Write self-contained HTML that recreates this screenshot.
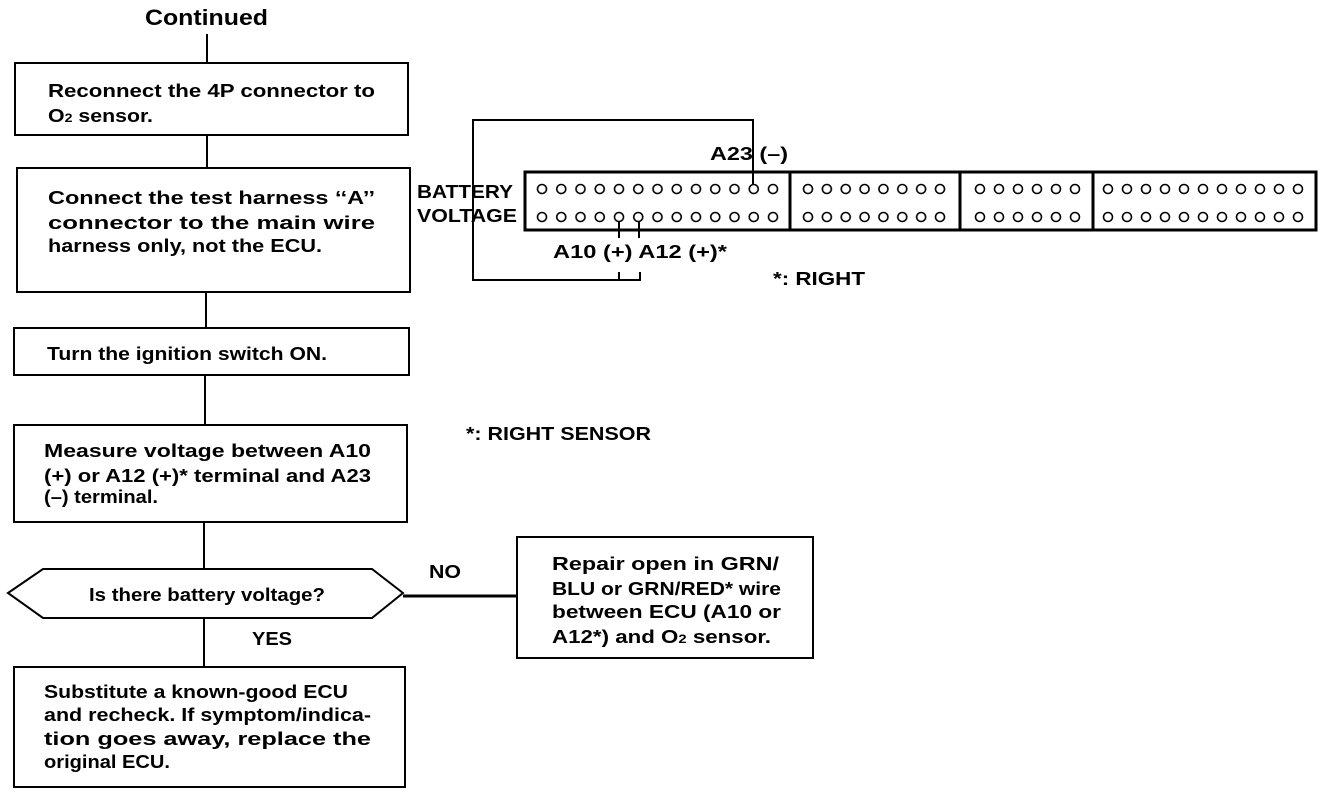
<!DOCTYPE html>
<html><head><meta charset="utf-8"><style>
html,body{margin:0;padding:0;background:#fff;}
svg{display:block;}
text{font-family:"Liberation Sans",Arial,sans-serif;font-weight:bold;fill:#000;}
.t{font-size:18px;}
</style></head><body>
<svg width="1344" height="796" viewBox="0 0 1344 796" xmlns="http://www.w3.org/2000/svg">
<defs>
<pattern id="p1" patternUnits="userSpaceOnUse" x="532.375" y="175" width="19.25" height="28"><circle cx="9.625" cy="14" r="4.5" fill="none" stroke="#000" stroke-width="1.6"/></pattern>
<pattern id="p2" patternUnits="userSpaceOnUse" x="798.57" y="175" width="18.857" height="28"><circle cx="9.43" cy="14" r="4.5" fill="none" stroke="#000" stroke-width="1.6"/></pattern>
<pattern id="p3" patternUnits="userSpaceOnUse" x="970.5" y="175" width="19" height="28"><circle cx="9.5" cy="14" r="4.5" fill="none" stroke="#000" stroke-width="1.6"/></pattern>
<pattern id="p4" patternUnits="userSpaceOnUse" x="1098.5" y="175" width="19" height="28"><circle cx="9.5" cy="14" r="4.5" fill="none" stroke="#000" stroke-width="1.6"/></pattern>
</defs>
<rect x="532.375" y="175" width="250.25" height="56" fill="url(#p1)"/>
<rect x="798.57" y="175" width="150.86" height="56" fill="url(#p2)"/>
<rect x="970.5" y="175" width="114" height="56" fill="url(#p3)"/>
<rect x="1098.5" y="175" width="209" height="56" fill="url(#p4)"/>
<g fill="none" stroke="#000" stroke-width="2">
<line x1="207" y1="34" x2="207" y2="63"/>
<rect x="15" y="63" width="393" height="72"/>
<line x1="207" y1="135" x2="207" y2="168"/>
<rect x="17" y="168" width="393" height="124"/>
<line x1="206" y1="292" x2="206" y2="328"/>
<rect x="14" y="328" width="395" height="47"/>
<line x1="205" y1="375" x2="205" y2="425"/>
<rect x="14" y="425" width="393" height="97"/>
<line x1="204" y1="522" x2="204" y2="569"/>
<polygon points="8,593 43,569 372,569 403,593 372,618 43,618"/>
<line x1="204" y1="618" x2="204" y2="667"/>
<rect x="14" y="667" width="391" height="120"/>
<line x1="403" y1="596" x2="517" y2="596" stroke-width="3"/>
<rect x="517" y="537" width="296" height="121"/>
<rect x="525" y="172" width="791" height="58" stroke-width="3"/>
<line x1="790" y1="172" x2="790" y2="230" stroke-width="3"/>
<line x1="960" y1="172" x2="960" y2="230" stroke-width="3"/>
<line x1="1093" y1="172" x2="1093" y2="230" stroke-width="3"/>
<polyline points="753,184 753,120 473,120 473,280 640,280 640,272"/>
<line x1="619" y1="272" x2="619" y2="280"/>
<line x1="619" y1="222" x2="619" y2="238"/>
<line x1="639" y1="222" x2="639" y2="238"/>
</g>
<text x="145" y="25" font-size="22" textLength="123" lengthAdjust="spacingAndGlyphs">Continued</text>
<text class="t" x="48" y="97" textLength="327" lengthAdjust="spacingAndGlyphs">Reconnect the 4P connector to</text>
<text class="t" x="48" y="122" textLength="105" lengthAdjust="spacingAndGlyphs">O<tspan font-size="12">2</tspan> sensor.</text>
<text class="t" x="48" y="204" textLength="327" lengthAdjust="spacingAndGlyphs">Connect the test harness ‘‘A’’</text>
<text class="t" x="48" y="229" textLength="327" lengthAdjust="spacingAndGlyphs">connector to the main wire</text>
<text class="t" x="48" y="252" textLength="274" lengthAdjust="spacingAndGlyphs">harness only, not the ECU.</text>
<text class="t" x="47" y="360" textLength="280" lengthAdjust="spacingAndGlyphs">Turn the ignition switch ON.</text>
<text class="t" x="44" y="457" textLength="327" lengthAdjust="spacingAndGlyphs">Measure voltage between A10</text>
<text class="t" x="44" y="482" textLength="327" lengthAdjust="spacingAndGlyphs">(+) or A12 (+)* terminal and A23</text>
<text class="t" x="44" y="503" textLength="114" lengthAdjust="spacingAndGlyphs">(–) terminal.</text>
<text class="t" x="89" y="601" textLength="236" lengthAdjust="spacingAndGlyphs">Is there battery voltage?</text>
<text class="t" x="252" y="645" textLength="40" lengthAdjust="spacingAndGlyphs">YES</text>
<text class="t" x="429" y="578" textLength="32" lengthAdjust="spacingAndGlyphs">NO</text>
<text class="t" x="44" y="698" textLength="304" lengthAdjust="spacingAndGlyphs">Substitute a known-good ECU</text>
<text class="t" x="44" y="721" textLength="327" lengthAdjust="spacingAndGlyphs">and recheck. If symptom/indica-</text>
<text class="t" x="44" y="745" textLength="327" lengthAdjust="spacingAndGlyphs">tion goes away, replace the</text>
<text class="t" x="44" y="768" textLength="126" lengthAdjust="spacingAndGlyphs">original ECU.</text>
<text class="t" x="552" y="570" textLength="227" lengthAdjust="spacingAndGlyphs">Repair open in GRN/</text>
<text class="t" x="552" y="595" textLength="229" lengthAdjust="spacingAndGlyphs">BLU or GRN/RED* wire</text>
<text class="t" x="552" y="618" textLength="229" lengthAdjust="spacingAndGlyphs">between ECU (A10 or</text>
<text class="t" x="552" y="643" textLength="219" lengthAdjust="spacingAndGlyphs">A12*) and O<tspan font-size="12">2</tspan> sensor.</text>
<text x="417" y="198" font-size="18" textLength="96" lengthAdjust="spacingAndGlyphs">BATTERY</text>
<text x="417" y="222" font-size="18" textLength="100" lengthAdjust="spacingAndGlyphs">VOLTAGE</text>
<text x="710" y="160" font-size="18" textLength="78" lengthAdjust="spacingAndGlyphs">A23 (–)</text>
<text x="553" y="258" font-size="18" textLength="174" lengthAdjust="spacingAndGlyphs">A10 (+) A12 (+)*</text>
<text x="773" y="285" font-size="18" textLength="92" lengthAdjust="spacingAndGlyphs">*: RIGHT</text>
<text x="466" y="440" font-size="18" textLength="185" lengthAdjust="spacingAndGlyphs">*: RIGHT SENSOR</text>
</svg>
</body></html>
